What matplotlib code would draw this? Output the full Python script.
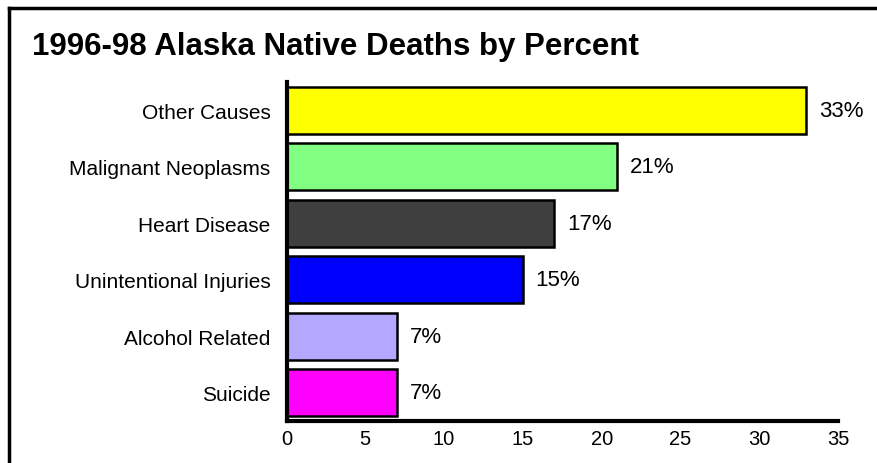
import matplotlib
matplotlib.use("Agg")
import matplotlib.pyplot as plt
from matplotlib.lines import Line2D

plt.rcParams['font.family'] = ['Liberation Sans', 'DejaVu Sans']

title = "1996-98 Alaska Native Deaths by Percent"
categories = ["Other Causes", "Malignant Neoplasms", "Heart Disease",
              "Unintentional Injuries", "Alcohol Related", "Suicide"]
values = [33, 21, 17, 15, 7, 7]
value_labels = ["33%", "21%", "17%", "15%", "7%", "7%"]
colors = ["#FFFF00", "#80FF80", "#404040", "#0000FF", "#B3A8FF", "#FF00FF"]
xticks = [0, 5, 10, 15, 20, 25, 30, 35]

fig = plt.figure(figsize=(8.77, 4.64), dpi=100)
ax = fig.add_axes([286.5 / 877, 1 - 422 / 464, (838 - 286.5) / 877, (422 - 83) / 464])

ypos = list(range(len(categories)))
ax.barh(ypos, values, height=0.83, color=colors, edgecolor="black", linewidth=1.8)
for y, v, lab in zip(ypos, values, value_labels):
    ax.text(v + 0.8, y, lab, va="center", ha="left", fontsize=16)

ax.set_xlim(0, 35)
ax.set_ylim(len(categories) - 0.5, -0.5)
ax.set_yticks(ypos)
ax.set_yticklabels(categories, fontsize=15)
ax.set_xticks(xticks)
ax.set_xticklabels([str(t) for t in xticks], fontsize=14.5)
ax.tick_params(axis="both", length=0)
ax.tick_params(axis="y", pad=11.5)
ax.tick_params(axis="x", pad=6)
for s in ["top", "right"]:
    ax.spines[s].set_visible(False)
for s in ["left", "bottom"]:
    ax.spines[s].set_linewidth(3)
    ax.spines[s].set_color("black")

fig.text(32 / 877, 1 - 55 / 464, title, fontsize=22.5, fontweight="bold", va="baseline", ha="left")

# figure frame (left and top edges)
fig.add_artist(Line2D([8.5 / 877, 8.5 / 877], [0, 1 - 8.5 / 464], transform=fig.transFigure,
                      color="black", linewidth=2.5))
fig.add_artist(Line2D([8.5 / 877, 1], [1 - 8.5 / 464, 1 - 8.5 / 464], transform=fig.transFigure,
                      color="black", linewidth=2.5))

fig.savefig("out.png", dpi=100)
